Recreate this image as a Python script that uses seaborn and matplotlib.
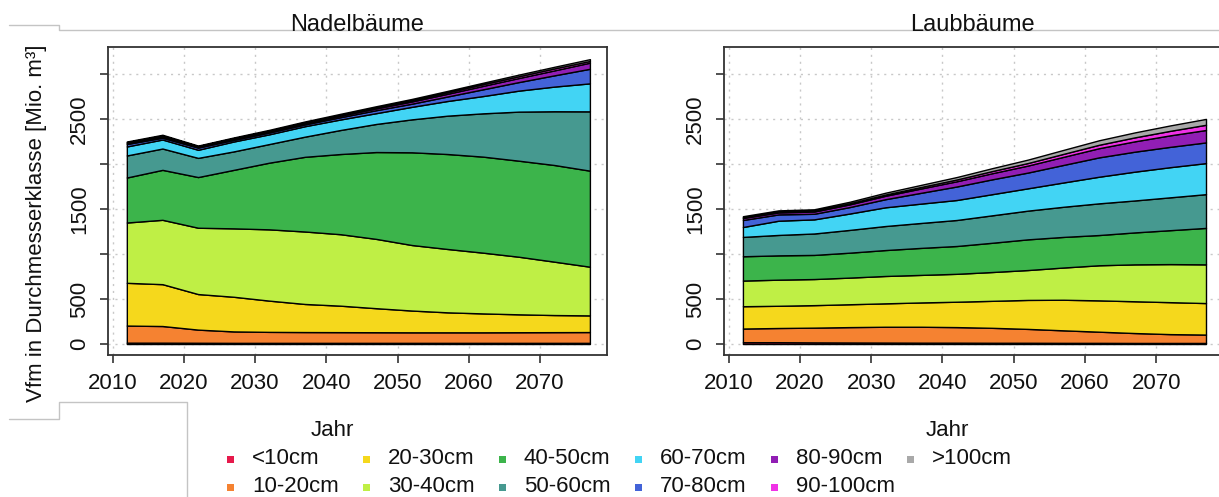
import numpy as np
import pandas as pd
import matplotlib
matplotlib.use("Agg")
import matplotlib.pyplot as plt
from matplotlib.lines import Line2D
from matplotlib.patches import Rectangle
import seaborn as sns

# ---------------------------------------------------------------
# Data: standing volume (Vfm, Mio. m³) per diameter class
# ---------------------------------------------------------------
years = [2012, 2017, 2022, 2027, 2032, 2037, 2042, 2047, 2052, 2057, 2062, 2067, 2072, 2077]

classes = ["<10cm", "10-20cm", "20-30cm", "30-40cm", "40-50cm", "50-60cm",
           "60-70cm", "70-80cm", "80-90cm", "90-100cm", ">100cm"]

class_colors = ["#E6194B", "#F58231", "#F5D81C", "#BFEF45", "#3CB44B", "#469990",
                "#42D4F4", "#4363D8", "#911EB4", "#F032E6", "#A9A9A9"]

# Nadelbäume (conifers)
nadel_lt10    = [15, 15, 14, 13, 13, 13, 13, 13, 13, 13, 13, 13, 13, 13]
nadel_10_20   = [190, 185, 146, 127, 122, 120, 119, 118, 117, 117, 117, 118, 119, 120]
nadel_20_30   = [475, 465, 395, 385, 347, 312, 294, 267, 242, 222, 210, 199, 190, 185]
nadel_30_40   = [670, 715, 737, 760, 792, 805, 794, 770, 728, 704, 675, 640, 593, 541]
nadel_40_50   = [500, 555, 563, 650, 741, 830, 891, 965, 1030, 1055, 1067, 1067, 1074, 1067]
nadel_50_60   = [245, 237, 213, 205, 207, 224, 267, 312, 366, 426, 481, 545, 597, 659]
nadel_60_70   = [100, 100, 90, 110, 108, 116, 117, 120, 139, 163, 192, 233, 274, 311]
nadel_70_80   = [27, 20, 24, 18, 20, 20, 25, 33, 35, 50, 75, 95, 125, 162]
nadel_80_90   = [12, 14, 10, 12, 12, 15, 17, 20, 25, 30, 38, 45, 55, 68]
nadel_90_100  = [8, 10, 6, 7, 8, 8, 10, 12, 15, 17, 19, 20, 22, 19]
nadel_gt100   = [8, 9, 7, 8, 10, 10, 11, 12, 13, 15, 16, 18, 18, 20]

# Laubbäume (broadleaves)
laub_lt10     = [20, 20, 18, 17, 16, 15, 15, 14, 14, 13, 13, 12, 12, 12]
laub_10_20    = [152, 158, 164, 171, 176, 177, 173, 166, 154, 139, 124, 110, 98, 93]
laub_20_30    = [248, 247, 250, 254, 260, 270, 282, 300, 322, 340, 348, 353, 355, 350]
laub_30_40    = [285, 290, 290, 296, 304, 306, 310, 320, 332, 358, 390, 410, 423, 430]
laub_40_50    = [270, 270, 268, 277, 288, 300, 309, 325, 341, 340, 336, 355, 377, 405]
laub_50_60    = [215, 227, 238, 253, 267, 277, 289, 305, 319, 335, 352, 355, 365, 375]
laub_60_70    = [110, 158, 157, 182, 208, 215, 222, 235, 248, 270, 296, 320, 335, 345]
laub_70_80    = [78, 70, 62, 72, 90, 120, 150, 165, 175, 195, 215, 222, 226, 230]
laub_80_90    = [22, 22, 25, 30, 38, 48, 58, 68, 78, 90, 102, 115, 128, 138]
laub_90_100   = [8, 9, 10, 12, 14, 17, 20, 24, 28, 33, 38, 44, 50, 58]
laub_gt100    = [12, 14, 15, 17, 20, 23, 27, 32, 38, 44, 50, 55, 60, 65]

nadel = pd.DataFrame(dict(zip(classes, [nadel_lt10, nadel_10_20, nadel_20_30, nadel_30_40,
                                        nadel_40_50, nadel_50_60, nadel_60_70, nadel_70_80,
                                        nadel_80_90, nadel_90_100, nadel_gt100])), index=years)
laub = pd.DataFrame(dict(zip(classes, [laub_lt10, laub_10_20, laub_20_30, laub_30_40,
                                       laub_40_50, laub_50_60, laub_60_70, laub_70_80,
                                       laub_80_90, laub_90_100, laub_gt100])), index=years)

panel_titles = ["Nadelbäume", "Laubbäume"]
x_label = "Jahr"
y_label = "Vfm in Durchmesserklasse [Mio. m³]"
x_ticks = [2010, 2020, 2030, 2040, 2050, 2060, 2070]
y_ticks = [0, 500, 1000, 1500, 2000, 2500, 3000]
y_tick_labels = ["0", "500", "", "1500", "", "2500", ""]

# ---------------------------------------------------------------
# Style
# ---------------------------------------------------------------
sns.set_theme(style="white")
plt.rcParams["font.family"] = ["Liberation Sans", "DejaVu Sans"]
palette = sns.color_palette(class_colors)

W, H = 1219, 497
fig = plt.figure(figsize=(W / 100, H / 100), dpi=100)
fig.patch.set_facecolor("white")


def fx(x):
    return x / W


def fy(y):
    return 1 - y / H


FS = 16
box_color = "#333333"
ax_w = fx(607) - fx(108.3)
ax_h = fy(47) - fy(355)
lefts = [fx(108.3), fx(724.4)]

for left, df, title in zip(lefts, [nadel, laub], panel_titles):
    ax = fig.add_axes([left, fy(355), ax_w, ax_h])
    ax.set_facecolor("white")
    ax.stackplot(df.index.values, *[df[c].values for c in classes],
                 colors=palette, edgecolor="black", linewidth=1.0, zorder=2)
    ax.set_xlim(2009.4, 2079.4)
    ax.set_ylim(-122, 3300)
    ax.set_xticks(x_ticks)
    ax.set_yticks(y_ticks)
    ax.set_yticklabels(y_tick_labels)
    ax.grid(True, color="#c8c8c8", linestyle=(0, (1.5, 3.5)), linewidth=1.0, zorder=0)
    ax.set_axisbelow(True)
    for s in ax.spines.values():
        s.set_color(box_color)
        s.set_linewidth(1.3)
        s.set_visible(True)
    ax.tick_params(axis="both", direction="out", length=6, width=1.2, color=box_color,
                   labelsize=FS, labelcolor="#111111", pad=7, left=True, bottom=True)
    for lbl in ax.get_yticklabels():
        lbl.set_rotation(90)
        lbl.set_va("center")
    ax.set_xlabel("")
    ax.set_ylabel("")

# Panel titles and axis labels
fig.text(fx(357), fy(25), panel_titles[0], ha="center", va="center", fontsize=FS + 1, color="#111111")
fig.text(fx(972), fy(25), panel_titles[1], ha="center", va="center", fontsize=FS + 1, color="#111111")
fig.text(fx(332), fy(430), x_label, ha="center", va="center", fontsize=FS, color="#111111")
fig.text(fx(947), fy(430), x_label, ha="center", va="center", fontsize=FS, color="#111111")
fig.text(fx(37), fy(223), y_label, ha="center", va="center", rotation=90, fontsize=FS, color="#111111")

# Thin frame lines around the page area
frame_kw = dict(color="#c4c4c4", linewidth=1.0, transform=fig.transFigure)
fig.add_artist(Line2D([fx(9), fx(59), fx(59), fx(W)], [fy(25), fy(25), fy(30), fy(30)], **frame_kw))
fig.add_artist(Line2D([fx(9), fx(59), fx(59), fx(187), fx(187)],
                      [fy(419), fy(419), fy(402), fy(402), fy(H)], **frame_kw))

# Legend: two rows, six columns
col_x0, col_dx = 230, 136
row_y = [459, 487]
sq = 7
for i, (name, col) in enumerate(zip(classes, palette)):
    c, r = divmod(i, 2)
    cx = col_x0 + c * col_dx
    cy = row_y[r]
    fig.add_artist(Rectangle((fx(cx - sq / 2), fy(cy + sq / 2)), sq / W, sq / H,
                             transform=fig.transFigure, facecolor=col, edgecolor="none"))
    fig.text(fx(cx + 22), fy(cy), name, ha="left", va="center", fontsize=FS, color="#111111")

fig.savefig("out.png", dpi=100, facecolor="white")
